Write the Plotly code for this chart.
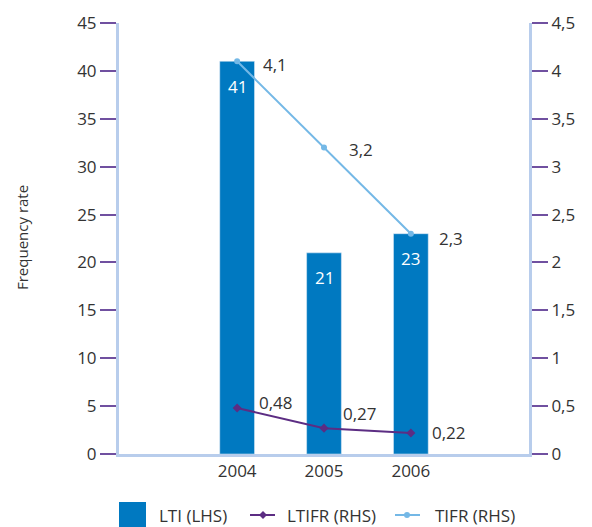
import plotly.graph_objects as go

years = [2004, 2005, 2006]
lti = [41, 21, 23]
ltifr = [0.48, 0.27, 0.22]
tifr = [4.1, 3.2, 2.3]
left_ticks = [0, 5, 10, 15, 20, 25, 30, 35, 40, 45]
right_ticks = [0, 0.5, 1, 1.5, 2, 2.5, 3, 3.5, 4, 4.5]
legend_names = ["LTI (LHS)", "LTIFR (RHS)", "TIFR (RHS)"]

BAR = "#0079c1"
PURPLE = "#5c2d83"
LBLUE = "#74b8e6"
AXIS = "#b8cdec"
TICK = "#7050a0"
TXT = "#333333"
FONT = "Open Sans"
W, H = 592, 527
L, R, T, B = 119, 63, 23, 73
PW, PH = W - L - R, H - T - B

def px(x):  # pixel x -> paper
    return (x - L) / PW

def py(y):  # pixel y -> paper
    return (H - B - y) / PH

fig = go.Figure()
fig.add_trace(go.Bar(x=years, y=lti, name=legend_names[0], marker_color=BAR, width=0.4))
fig.add_trace(go.Scatter(
    x=years, y=ltifr, name=legend_names[1], yaxis="y2", mode="lines+markers",
    line=dict(color=PURPLE, width=2), marker=dict(color=PURPLE, size=7, symbol="diamond"),
))
fig.add_trace(go.Scatter(
    x=years, y=tifr, name=legend_names[2], yaxis="y2", mode="lines+markers",
    line=dict(color=LBLUE, width=2), marker=dict(color=LBLUE, size=6),
))

def fmt(v):
    return ("%g" % v).replace(".", ",")

for x, v in zip(years, lti):
    fig.add_annotation(x=x, y=v, text=str(v), showarrow=False, yshift=-25,
                       font=dict(size=17, color="white", family=FONT))

tifr_shift = [(38, -3), (37, -2), (40, -5)]
ltifr_shift = [(39, 6), (36, 15), (38, 0)]
for x, v, (dx, dy) in zip(years, tifr, tifr_shift):
    fig.add_annotation(x=x, y=v, yref="y2", text=fmt(v), showarrow=False,
                       xshift=dx, yshift=dy, font=dict(size=17, color=TXT, family=FONT))
for x, v, (dx, dy) in zip(years, ltifr, ltifr_shift):
    fig.add_annotation(x=x, y=v, yref="y2", text=fmt(v), showarrow=False,
                       xshift=dx, yshift=dy, font=dict(size=17, color=TXT, family=FONT))

# y-axis title
fig.add_annotation(xref="paper", yref="paper", x=px(22), y=py(238), text="Frequency rate",
                   xanchor="center", yanchor="middle",
                   textangle=-90, showarrow=False, font=dict(size=15, color=TXT, family=FONT))

# manual legend
ly = 515
fig.add_shape(type="rect", xref="paper", yref="paper", x0=px(119), x1=px(146),
              y0=py(528), y1=py(502), fillcolor=BAR, line_width=0, layer="above")
fig.add_annotation(xref="paper", yref="paper", x=px(157), y=py(ly), xanchor="left", yanchor="middle",
                   text=legend_names[0], showarrow=False, font=dict(size=17, color=TXT, family=FONT))
fig.add_shape(type="line", xref="paper", yref="paper", x0=px(250), x1=px(275),
              y0=py(ly), y1=py(ly), line=dict(color=PURPLE, width=2))
fig.add_shape(type="path", xref="paper", yref="paper",
              path=f"M {px(259)} {py(ly)} L {px(263)} {py(ly-4)} L {px(267)} {py(ly)} L {px(263)} {py(ly+4)} Z",
              fillcolor=PURPLE, line_width=0)
fig.add_annotation(xref="paper", yref="paper", x=px(285), y=py(ly), xanchor="left", yanchor="middle",
                   text=legend_names[1], showarrow=False, font=dict(size=17, color=TXT, family=FONT))
fig.add_shape(type="line", xref="paper", yref="paper", x0=px(395), x1=px(420),
              y0=py(ly), y1=py(ly), line=dict(color=LBLUE, width=2))
fig.add_shape(type="circle", xref="paper", yref="paper", x0=px(404), x1=px(410),
              y0=py(ly+3), y1=py(ly-3), fillcolor=LBLUE, line_width=0)
fig.add_annotation(xref="paper", yref="paper", x=px(433), y=py(ly), xanchor="left", yanchor="middle",
                   text=legend_names[2], showarrow=False, font=dict(size=17, color=TXT, family=FONT))

fig.update_layout(
    width=W, height=H,
    margin=dict(l=L, r=R, t=T, b=B, autoexpand=False),
    paper_bgcolor="white", plot_bgcolor="white",
    separators=", ",
    font=dict(family=FONT, size=17, color=TXT),
    showlegend=False,
    xaxis=dict(range=[2002.64, 2007.36], tickvals=years, ticktext=[str(y) for y in years],
               showgrid=False, zeroline=False, showline=True, linecolor=AXIS, linewidth=3,
               ticks="", tickfont=dict(size=17, color=TXT, family=FONT)),
    yaxis=dict(range=[0, 45], tickvals=left_ticks, showgrid=False, zeroline=False,
               showline=True, linecolor=AXIS, linewidth=3, ticks="outside", ticklen=16,
               tickwidth=2, tickcolor=TICK, tickfont=dict(size=17, color=TXT, family=FONT)),
    yaxis2=dict(range=[0, 4.5], tickvals=right_ticks, overlaying="y", side="right",
                showgrid=False, zeroline=False, showline=True, linecolor=AXIS, linewidth=3,
                ticks="outside", ticklen=16, tickwidth=2, tickcolor=TICK,
                tickfont=dict(size=17, color=TXT, family=FONT)),
)
fig.write_html("out.html")
